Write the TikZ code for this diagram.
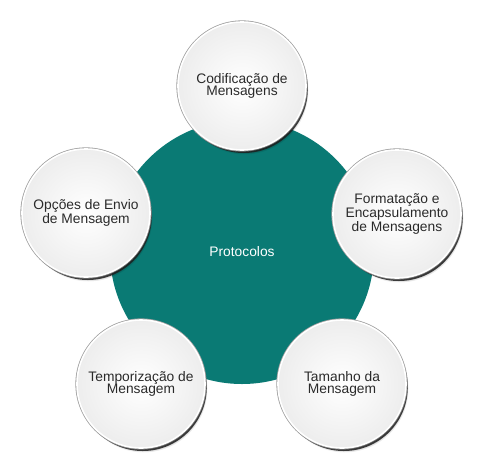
\documentclass[tikz,border=0pt]{standalone}
\usepackage{fontspec}
\setmainfont{Liberation Sans}
\usetikzlibrary{shadows,shadings}
\definecolor{teal1}{HTML}{0A7A74}
\definecolor{txt}{HTML}{2A2A2A}
\definecolor{ringc}{HTML}{A0A0A0}
\tikzset{
  bubble/.style={circle, minimum size=128pt, inner sep=0pt, align=center,
    font=\fontsize{13.8pt}{12.8pt}\selectfont, text=txt,
    inner color=white, outer color=gray!14,
    preaction={fill=black!85, fill opacity=0.85, draw=none, transform canvas={shift={(1.8pt,-3pt)}}},
    preaction={draw=ringc, line width=3.2pt},
    draw=white, line width=1.6pt,
    circular drop shadow={shadow xshift=2.5pt, shadow yshift=-4.5pt, shadow scale=1.0, opacity=0.6, fill=black}},
  hub/.style={circle, minimum size=264pt, inner sep=0pt, fill=teal1, text=white,
    font=\fontsize{13.8pt}{13pt}\selectfont}
}
\begin{document}
\begin{tikzpicture}[x=1pt,y=-1pt]
\useasboundingbox (0,0) rectangle (487,472);
\node[hub] (p) at (242,252) {Protocolos};
\node[bubble] (c) at (242,86) {Codificação de\\Mensagens};
\node[bubble] (f) at (397,214) {Formatação e\\Encapsulamento\\de Mensagens};
\node[bubble] (t) at (342,384) {Tamanho da\\Mensagem};
\node[bubble] (tm) at (141,384) {Temporização de\\Mensagem};
\node[bubble] (o) at (86,213) {Opções de Envio\\de Mensagem};
\end{tikzpicture}
\end{document}
